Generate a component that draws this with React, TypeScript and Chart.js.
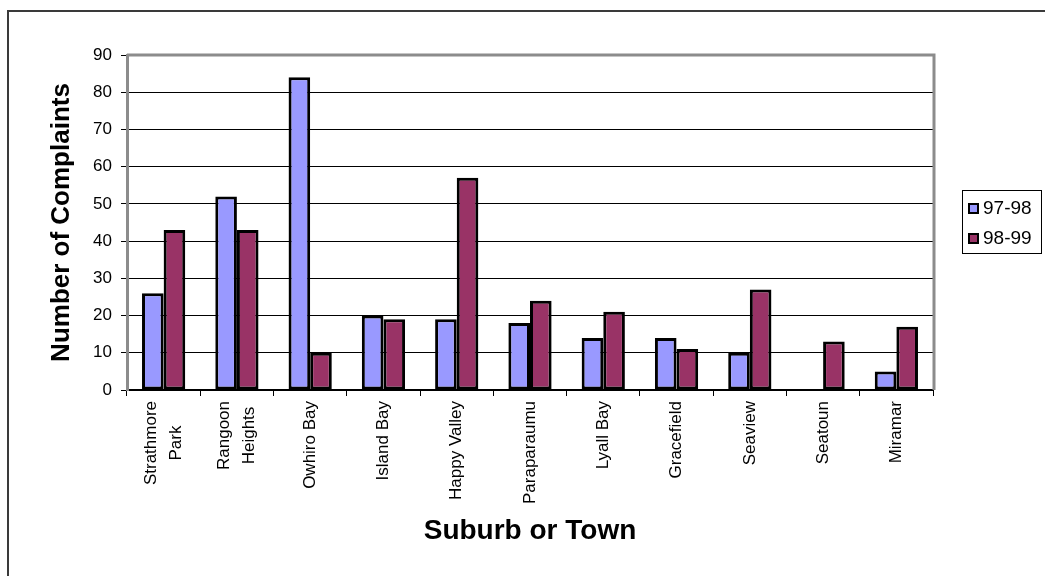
import React, { useEffect, useRef } from "react";
import { Chart, registerables } from "chart.js";

Chart.register(...registerables);

// Complaints per suburb, two reporting years
const suburbs: string[][] = [
  ["Strathmore", "Park"],
  ["Rangoon", "Heights"],
  ["Owhiro Bay"],
  ["Island Bay"],
  ["Happy Valley"],
  ["Paraparaumu"],
  ["Lyall Bay"],
  ["Gracefield"],
  ["Seaview"],
  ["Seatoun"],
  ["Miramar"],
];
const complaints9798: number[] = [26, 52, 84, 20, 19, 18, 14, 14, 10, 0, 5];
const complaints9899: number[] = [43, 43, 10, 19, 57, 24, 21, 11, 27, 13, 17];
const seriesNames: string[] = ["97-98", "98-99"];
const yTitle = "Number of Complaints";
const xTitle = "Suburb or Town";

const FONT = "'Liberation Sans', Arial, Helvetica, sans-serif";

const decorations = {
  id: "decorations",
  beforeDatasetsDraw(chart: any) {
    const { ctx, chartArea } = chart;
    const { left, right, top, bottom } = chartArea;
    ctx.save();
    // gray frame on top and right of the plot
    ctx.strokeStyle = "#8c8c8c";
    ctx.lineWidth = 3;
    ctx.beginPath();
    ctx.moveTo(left, top);
    ctx.lineTo(right + 1, top);
    ctx.lineTo(right + 1, bottom);
    ctx.stroke();
    ctx.restore();
  },
  afterDraw(chart: any) {
    const { ctx, chartArea, scales } = chart;
    const { left, right, top, bottom } = chartArea;
    ctx.save();

    // outer chart border
    ctx.strokeStyle = "#3a3a3a";
    ctx.lineWidth = 2;
    ctx.strokeRect(8, 11, 1100, 700);

    // category labels, rotated, read bottom to top
    const xs = scales.x;
    ctx.fillStyle = "#000";
    ctx.font = `17px ${FONT}`;
    ctx.textBaseline = "middle";
    const labels = chart.data.labels as string[][];
    labels.forEach((lines, i) => {
      const cx = xs.getPixelForValue(i);
      const widths = lines.map((l) => ctx.measureText(l).width);
      const maxW = Math.max(...widths);
      const spacing = 25;
      ctx.save();
      ctx.translate(cx, bottom + 11);
      ctx.rotate(-Math.PI / 2);
      lines.forEach((line, j) => {
        const off = (j - (lines.length - 1) / 2) * spacing;
        if (widths[j] === maxW) {
          ctx.textAlign = "right";
          ctx.fillText(line, 0, off);
        } else {
          ctx.textAlign = "center";
          ctx.fillText(line, -maxW / 2, off);
        }
      });
      ctx.restore();
    });

    // axis titles
    ctx.fillStyle = "#000";
    ctx.textAlign = "center";
    ctx.textBaseline = "middle";
    ctx.font = `bold 28px ${FONT}`;
    ctx.fillText(xTitle, (left + right) / 2, 531);
    ctx.font = `bold 26px ${FONT}`;
    ctx.save();
    ctx.translate(62, (top + bottom) / 2);
    ctx.rotate(-Math.PI / 2);
    ctx.fillText(yTitle, 0, 0);
    ctx.restore();

    // legend box
    const lx = 962;
    const ly = 190;
    ctx.strokeStyle = "#000";
    ctx.lineWidth = 1;
    ctx.strokeRect(lx + 0.5, ly + 0.5, 79, 63);
    ctx.font = `19px ${FONT}`;
    ctx.textAlign = "left";
    chart.data.datasets.forEach((ds: any, k: number) => {
      const cy = ly + 18 + k * 30;
      ctx.fillStyle = ds.backgroundColor;
      ctx.fillRect(lx + 7, cy - 4, 9, 9);
      ctx.strokeStyle = "#000";
      ctx.lineWidth = 2;
      ctx.strokeRect(lx + 7, cy - 4, 9, 9);
      ctx.fillStyle = "#000";
      ctx.fillText(ds.label, lx + 21, cy + 1);
    });
    ctx.restore();
  },
};

export default function App() {
  const canvasRef = useRef<HTMLCanvasElement | null>(null);

  useEffect(() => {
    if (!canvasRef.current) return;
    const chart = new Chart(canvasRef.current, {
      type: "bar",
      data: {
        labels: suburbs as any,
        datasets: [
          {
            label: seriesNames[0],
            data: complaints9798,
            backgroundColor: "#9999FF",
            borderColor: "#000000",
            borderWidth: 3,
            borderSkipped: false,
            categoryPercentage: 0.59,
            barPercentage: 1,
          },
          {
            label: seriesNames[1],
            data: complaints9899,
            backgroundColor: "#993366",
            borderColor: "#000000",
            borderWidth: 3,
            borderSkipped: false,
            categoryPercentage: 0.59,
            barPercentage: 1,
          },
        ],
      },
      options: {
        responsive: false,
        animation: false,
        devicePixelRatio: 1,
        layout: { padding: { top: 55, right: 112, left: 0, bottom: 0 } },
        plugins: {
          legend: { display: false },
          tooltip: { enabled: false },
        },
        scales: {
          x: {
            afterFit: (s: any) => {
              s.height = 186;
            },
            ticks: { display: false },
            grid: {
              display: true,
              drawOnChartArea: false,
              drawTicks: true,
              tickLength: 6,
              color: "#000",
              lineWidth: 1,
              offset: true,
            },
            border: { display: true, color: "#000", width: 2 },
          },
          y: {
            min: 0,
            max: 90,
            afterFit: (s: any) => {
              s.width = 127;
            },
            ticks: {
              stepSize: 10,
              color: "#000",
              font: { family: FONT, size: 17 },
              padding: 9,
            },
            grid: {
              color: "#000",
              lineWidth: 1,
              drawTicks: true,
              tickLength: 6,
              tickColor: "#000",
            },
            border: { display: true, color: "#8c8c8c", width: 3 },
          },
        },
      },
      plugins: [decorations],
    });
    return () => chart.destroy();
  }, []);

  return (
    <div style={{ position: "fixed", left: 0, top: 0, width: 1045, height: 576, background: "#fff" }}>
      <canvas ref={canvasRef} width={1045} height={576} style={{ display: "block" }} />
    </div>
  );
}
